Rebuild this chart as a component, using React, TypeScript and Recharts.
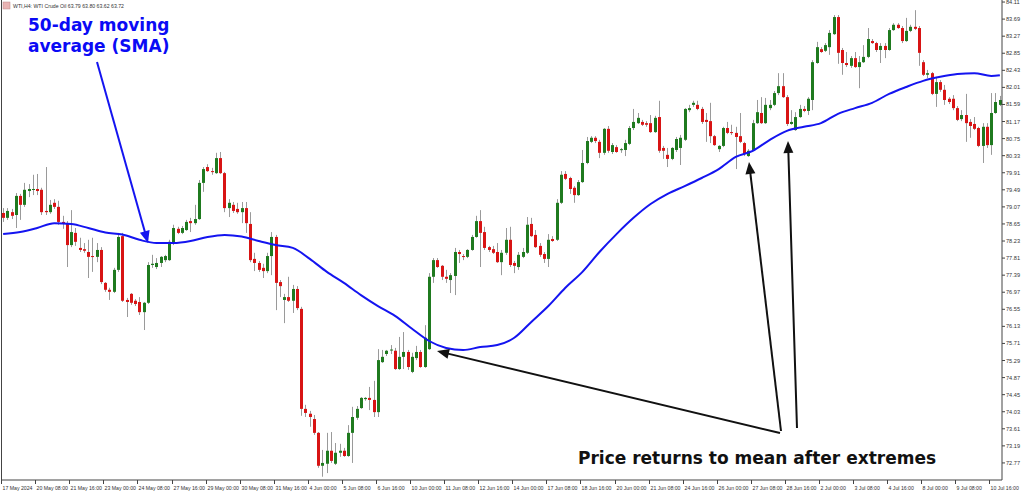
import React from 'react';
import { ComposedChart, Bar, Line, XAxis, YAxis } from 'recharts';

// H4 candles, [open, high, low, close]
const candles: [number, number, number, number][] = [
  [78.92, 79.04, 78.70, 78.80], [78.80, 79.04, 78.75, 78.97], [78.94, 79.02, 78.77, 78.85], [78.87, 79.41, 78.55, 79.34],
  [79.34, 79.39, 78.75, 79.12], [79.12, 79.66, 79.07, 79.49], [79.46, 79.63, 79.31, 79.51], [79.49, 79.86, 79.36, 79.51],
  [79.51, 79.88, 79.36, 79.46], [79.49, 79.54, 78.87, 78.94], [78.97, 80.05, 78.87, 78.94], [78.94, 79.24, 78.90, 79.12],
  [79.17, 79.26, 79.02, 79.07], [79.07, 79.22, 78.63, 78.70], [78.70, 78.85, 78.53, 78.67], [78.67, 78.72, 77.59, 78.13],
  [78.13, 78.99, 78.08, 78.45], [78.43, 78.55, 78.11, 78.21], [78.06, 78.31, 77.96, 78.01], [78.03, 78.18, 77.94, 77.99],
  [77.96, 78.26, 77.32, 77.84], [77.86, 78.31, 77.47, 77.84], [77.84, 78.18, 77.71, 78.01], [78.01, 78.08, 77.17, 77.22],
  [77.20, 77.22, 76.98, 77.03], [77.03, 77.08, 76.78, 76.98], [76.98, 77.57, 76.95, 77.52], [77.52, 78.43, 77.47, 78.33],
  [78.35, 78.43, 76.73, 76.76], [76.78, 76.83, 76.36, 76.73], [76.93, 76.95, 76.66, 76.71], [76.76, 76.80, 76.63, 76.68],
  [76.73, 76.85, 76.41, 76.48], [76.48, 76.73, 76.04, 76.71], [76.71, 77.71, 76.68, 77.64], [77.64, 77.89, 77.57, 77.67],
  [77.59, 77.81, 77.54, 77.69], [77.69, 77.86, 77.59, 77.84], [77.76, 77.89, 77.71, 77.86], [77.76, 78.26, 77.74, 78.21],
  [78.18, 78.63, 78.13, 78.55], [78.53, 78.58, 78.40, 78.43], [78.43, 78.60, 78.40, 78.55], [78.50, 78.75, 78.48, 78.70],
  [78.72, 78.80, 78.45, 78.67], [78.67, 79.12, 78.63, 78.77], [78.77, 79.73, 78.75, 79.66], [79.66, 80.05, 79.44, 80.00],
  [80.05, 80.12, 79.93, 79.95], [79.95, 80.03, 79.86, 79.93], [79.90, 80.40, 79.88, 80.27], [80.27, 80.42, 79.88, 79.90],
  [79.90, 79.93, 78.94, 79.04], [79.04, 79.26, 78.82, 79.17], [79.12, 79.19, 78.92, 78.97], [79.02, 79.17, 78.90, 78.94],
  [78.94, 79.19, 78.67, 79.04], [79.04, 79.19, 78.43, 78.67], [78.65, 78.94, 77.71, 77.76], [77.79, 77.94, 77.49, 77.69],
  [77.69, 77.74, 77.47, 77.52], [77.57, 77.67, 77.32, 77.49], [77.49, 77.94, 77.44, 77.86], [77.86, 78.45, 77.39, 78.33],
  [78.33, 78.38, 76.53, 77.20], [77.22, 77.27, 76.85, 77.12], [76.78, 76.93, 76.21, 76.85], [76.85, 77.35, 76.73, 76.76],
  [76.76, 77.15, 76.46, 77.05], [77.05, 77.12, 76.53, 76.58], [76.56, 76.61, 73.93, 74.10], [74.10, 74.20, 73.90, 74.00],
  [73.98, 74.05, 73.66, 73.90], [73.85, 73.95, 73.46, 73.51], [73.51, 73.53, 72.65, 72.70], [72.70, 73.09, 72.43, 72.77],
  [72.75, 73.51, 72.52, 73.07], [73.07, 73.53, 72.77, 72.82], [72.75, 73.26, 72.72, 73.02], [73.02, 73.24, 72.92, 73.07],
  [73.07, 73.14, 72.92, 72.94], [72.94, 73.70, 72.92, 73.51], [73.51, 74.15, 72.77, 73.90], [73.88, 74.17, 73.83, 74.10],
  [74.12, 74.39, 74.10, 74.37], [74.34, 74.39, 74.30, 74.37], [74.37, 74.64, 74.07, 74.32], [74.32, 74.79, 73.90, 74.02],
  [74.02, 75.57, 73.90, 75.30], [75.25, 75.55, 75.23, 75.38], [75.45, 75.55, 75.40, 75.53], [75.55, 75.67, 75.45, 75.56],
  [75.53, 75.60, 75.06, 75.08], [75.08, 75.87, 75.06, 75.38], [75.38, 75.99, 75.08, 75.50], [75.50, 75.55, 75.06, 75.13],
  [75.01, 75.48, 74.98, 75.38], [75.35, 75.65, 75.30, 75.50], [75.50, 75.55, 75.11, 75.13], [75.13, 76.16, 75.11, 75.85],
  [75.57, 77.44, 75.55, 77.35], [77.35, 77.81, 77.20, 77.76], [77.76, 77.81, 77.57, 77.59], [77.62, 77.64, 77.27, 77.35],
  [77.35, 77.52, 77.20, 77.30], [77.27, 77.44, 76.95, 77.39], [77.37, 78.06, 76.90, 77.96], [77.96, 78.01, 77.69, 77.91],
  [77.86, 77.91, 77.76, 77.84], [77.84, 78.03, 77.81, 78.01], [78.01, 78.38, 77.99, 78.33], [78.33, 78.85, 78.31, 78.72],
  [78.72, 78.99, 77.59, 78.43], [78.45, 78.58, 78.01, 78.06], [78.08, 78.11, 77.96, 78.01], [78.03, 78.11, 77.91, 77.94],
  [77.96, 78.18, 77.69, 77.71], [77.71, 78.01, 77.39, 77.94], [77.94, 78.55, 77.89, 78.26], [78.26, 78.58, 77.59, 77.64],
  [77.69, 77.74, 77.44, 77.62], [77.59, 77.96, 77.52, 77.89], [77.84, 78.06, 77.81, 77.96], [77.94, 78.82, 77.91, 78.63],
  [78.65, 78.80, 78.33, 78.35], [78.38, 78.50, 78.06, 78.08], [78.11, 78.18, 77.84, 77.89], [77.91, 77.96, 77.69, 77.79],
  [77.79, 78.40, 77.59, 78.26], [78.28, 78.35, 78.21, 78.23], [78.26, 79.26, 78.23, 79.17], [79.17, 79.95, 79.14, 79.86],
  [79.88, 79.95, 79.73, 79.76], [79.78, 79.81, 79.39, 79.51], [79.54, 79.58, 79.17, 79.36], [79.36, 79.73, 79.34, 79.68],
  [79.68, 80.47, 79.66, 80.15], [80.15, 80.79, 80.12, 80.69], [80.67, 80.81, 80.64, 80.77], [80.77, 80.81, 80.64, 80.69],
  [80.67, 80.72, 80.27, 80.40], [80.40, 81.01, 80.35, 80.99], [80.99, 81.06, 80.40, 80.45], [80.42, 80.64, 80.37, 80.59],
  [80.54, 80.59, 80.40, 80.42], [80.47, 80.52, 80.40, 80.49], [80.47, 80.72, 80.32, 80.64], [80.62, 81.06, 80.59, 81.01],
  [81.01, 81.48, 80.96, 81.16], [81.13, 81.38, 81.11, 81.26], [81.16, 81.21, 81.06, 81.09], [81.13, 81.18, 81.04, 81.09],
  [81.13, 81.33, 80.89, 80.91], [80.91, 81.31, 80.89, 81.26], [81.28, 81.68, 80.40, 80.45], [80.52, 80.57, 80.25, 80.45],
  [80.35, 80.52, 80.05, 80.25], [80.25, 80.54, 80.22, 80.52], [80.47, 80.79, 80.42, 80.74], [80.52, 80.84, 80.10, 80.77],
  [80.72, 81.50, 80.69, 81.48], [81.45, 81.58, 81.40, 81.50], [81.58, 81.68, 81.53, 81.63], [81.58, 81.68, 81.45, 81.48],
  [81.48, 81.53, 81.11, 81.16], [81.21, 81.38, 80.67, 81.16], [81.18, 81.63, 80.64, 80.81], [80.81, 80.84, 80.57, 80.59],
  [80.49, 80.59, 80.42, 80.57], [80.57, 81.04, 80.54, 81.01], [81.01, 81.16, 80.86, 80.89], [80.91, 81.09, 80.84, 80.89],
  [80.89, 81.04, 80.00, 80.79], [80.81, 81.38, 80.64, 80.67], [80.64, 80.67, 80.32, 80.37], [80.32, 80.49, 80.30, 80.45],
  [80.47, 81.21, 80.45, 81.13], [81.13, 81.70, 81.11, 81.40], [81.38, 81.77, 81.11, 81.13], [81.13, 81.75, 81.11, 81.58],
  [81.50, 81.70, 81.45, 81.58], [81.58, 81.92, 81.55, 81.87], [81.87, 82.36, 81.82, 82.04], [82.04, 82.36, 81.75, 81.77],
  [81.77, 81.82, 81.06, 81.11], [81.11, 81.45, 81.09, 81.16], [80.96, 81.40, 80.94, 81.28], [81.28, 81.58, 81.26, 81.48],
  [81.48, 81.55, 81.40, 81.43], [81.43, 81.77, 81.33, 81.73], [81.70, 82.68, 81.45, 82.63], [82.61, 83.13, 82.59, 83.00],
  [82.95, 83.00, 82.86, 82.88], [82.91, 83.10, 82.88, 83.05], [83.00, 83.42, 82.81, 83.35], [83.32, 83.79, 83.30, 83.74],
  [83.74, 83.79, 82.59, 82.86], [82.93, 82.98, 82.32, 82.61], [82.61, 82.88, 82.51, 82.56], [82.54, 82.78, 82.49, 82.73],
  [82.73, 82.88, 82.49, 82.51], [82.51, 82.78, 81.99, 82.63], [82.63, 83.05, 82.61, 82.76], [82.76, 83.47, 82.73, 83.20],
  [83.15, 83.20, 83.08, 83.10], [83.10, 83.13, 82.88, 82.93], [82.93, 83.10, 82.61, 83.03], [83.03, 83.10, 82.73, 82.93],
  [82.93, 83.47, 82.91, 83.42], [83.42, 83.59, 83.40, 83.55], [83.55, 83.59, 83.45, 83.47], [83.47, 83.52, 83.10, 83.15],
  [83.15, 83.72, 83.13, 83.40], [83.40, 83.55, 83.37, 83.50], [83.50, 83.91, 83.42, 83.45], [83.47, 83.52, 82.54, 82.86],
  [82.63, 82.68, 82.29, 82.32], [82.32, 82.44, 82.24, 82.36], [82.36, 82.39, 81.82, 81.85], [81.85, 82.27, 81.53, 82.14],
  [82.14, 82.19, 81.90, 81.95], [81.95, 82.07, 81.58, 81.70], [81.73, 81.77, 81.60, 81.65], [81.73, 81.82, 81.45, 81.50],
  [81.50, 81.55, 81.18, 81.21], [81.23, 81.45, 81.18, 81.33], [81.33, 81.85, 80.67, 81.13], [81.16, 81.23, 80.77, 81.06],
  [81.11, 81.28, 80.96, 80.99], [81.01, 81.04, 80.54, 80.57], [80.57, 81.13, 80.15, 81.04], [81.04, 81.13, 80.52, 80.59],
  [80.59, 81.87, 80.35, 81.38], [81.38, 81.87, 81.36, 81.65], [81.58, 81.80, 81.55, 81.70],
];

// 50 SMA, read every 4th bar, plus the last bar
const smaEvery4 = [
  78.40, 78.45, 78.55, 78.67, 78.65, 78.55, 78.44, 78.39, 78.26, 78.18,
  78.18, 78.23, 78.33, 78.38, 78.34, 78.23, 78.13, 78.06, 77.79, 77.47,
  77.20, 76.90, 76.63, 76.39, 76.07, 75.77, 75.60, 75.55, 75.62, 75.67,
  75.85, 76.24, 76.63, 77.08, 77.47, 77.96, 78.40, 78.80, 79.14, 79.39,
  79.58, 79.78, 80.00, 80.30, 80.45, 80.72, 80.94, 81.04, 81.13, 81.36,
  81.50, 81.63, 81.85, 82.02, 82.17, 82.27, 82.34, 82.36, 82.29,
];
const smaLastBar = 82.31;

// one label every 8 bars
const timeLabels = [
  '17 May 2024', '20 May 08:00', '21 May 16:00', '23 May 00:00', '24 May 08:00', '27 May 16:00',
  '29 May 00:00', '30 May 08:00', '31 May 16:00', '4 Jun 00:00', '5 Jun 08:00', '6 Jun 16:00',
  '10 Jun 00:00', '11 Jun 08:00', '12 Jun 16:00', '14 Jun 00:00', '17 Jun 08:00', '18 Jun 16:00',
  '20 Jun 00:00', '21 Jun 08:00', '24 Jun 16:00', '26 Jun 00:00', '27 Jun 08:00', '28 Jun 16:00',
  '2 Jul 00:00', '3 Jul 08:00', '4 Jul 16:00', '8 Jul 00:00', '9 Jul 08:00', '10 Jul 16:00',
];

const priceTicks = [
  84.11, 83.69, 83.27, 82.85, 82.43, 82.01, 81.59, 81.17, 80.75, 80.33, 79.91, 79.49, 79.07, 78.65,
  78.23, 77.81, 77.39, 76.97, 76.55, 76.13, 75.71, 75.29, 74.87, 74.45, 74.03, 73.61, 73.19, 72.77,
];

const data = candles.map(([open, high, low, close], i) => ({
  i,
  open,
  high,
  low,
  close,
  range: [low, high],
  sma: i % 4 === 0 ? smaEvery4[i / 4] : i === candles.length - 1 ? smaLastBar : null,
}));

const UP = '#1f7a1f';
const DOWN = '#d81414';
const WICK = '#9a9a9a';
const AXIS = '#444';
const tickFont = { fontFamily: 'Liberation Sans, Arial, sans-serif', fontSize: 5.2, fill: '#333' };

const Candle = (props: any) => {
  const { x, y, width, height, payload } = props;
  const top = Math.min(y, y + height);
  const h = Math.abs(height);
  const span = payload.high - payload.low;
  const k = span > 0 ? h / span : 0;
  const cx = Math.round(x + width / 2) + 0.5;
  const yo = top + (payload.high - payload.open) * k;
  const yc = top + (payload.high - payload.close) * k;
  const up = payload.close >= payload.open;
  return (
    <g>
      <line x1={cx} x2={cx} y1={top} y2={top + h} stroke={WICK} strokeWidth={1} />
      <rect
        x={cx - 1.5}
        y={Math.min(yo, yc)}
        width={3}
        height={Math.max(1, Math.abs(yo - yc))}
        fill={up ? UP : DOWN}
      />
    </g>
  );
};

const TimeTick = (props: any) => {
  const { x, y, payload } = props;
  const i = payload.value;
  if (i % 8 !== 0) return <g />;
  const tx = Math.round(x) - 1.5;
  return (
    <g>
      <line x1={tx} x2={tx} y1={y} y2={y + 4} stroke={AXIS} />
      <text x={tx + 1} y={y + 9.5} {...tickFont}>
        {timeLabels[i / 8]}
      </text>
    </g>
  );
};

const PriceTick = (props: any) => {
  const { x, y, payload } = props;
  return (
    <g>
      <line x1={x} x2={x + 3} y1={y} y2={y} stroke={AXIS} />
      <text x={x + 4} y={y + 2} {...tickFont} fontSize={5.6}>
        {payload.value.toFixed(2)}
      </text>
    </g>
  );
};

const arrowHead = (x1: number, y1: number, x2: number, y2: number, len = 12, half = 5) => {
  const dx = x2 - x1;
  const dy = y2 - y1;
  const d = Math.hypot(dx, dy);
  const ux = dx / d;
  const uy = dy / d;
  const bx = x2 - ux * len;
  const by = y2 - uy * len;
  return `${x2},${y2} ${bx - uy * half},${by + ux * half} ${bx + uy * half},${by - ux * half}`;
};

const Arrow = ({ x1, y1, x2, y2, color }: any) => {
  const d = Math.hypot(x2 - x1, y2 - y1);
  const ex = x2 - ((x2 - x1) / d) * 8;
  const ey = y2 - ((y2 - y1) / d) * 8;
  return (
    <g>
      <line x1={x1} y1={y1} x2={ex} y2={ey} stroke={color} strokeWidth={2} />
      <polygon points={arrowHead(x1, y1, x2, y2)} fill={color} />
    </g>
  );
};

const App: React.FC = () => {
  return (
    <div style={{ position: 'fixed', left: 0, top: 0, width: 1024, height: 492, background: '#fff' }}>
      <ComposedChart
        width={1024}
        height={492}
        data={data}
        margin={{ top: 0, right: 0, bottom: 0, left: 1 }}
        barCategoryGap={0}
      >
        <XAxis
          dataKey="i"
          type="category"
          interval={0}
          height={12}
          tickLine={false}
          tickSize={0}
          tickMargin={0}
          tick={<TimeTick />}
          axisLine={{ stroke: AXIS }}
        />
        <YAxis
          orientation="right"
          type="number"
          domain={[72.35, 84.16]}
          allowDataOverflow
          ticks={priceTicks}
          interval={0}
          width={22}
          tickLine={false}
          tickSize={0}
          tickMargin={0}
          tick={<PriceTick />}
          axisLine={{ stroke: AXIS }}
        />
        <Bar dataKey="range" shape={<Candle />} isAnimationActive={false} />
        <Line
          dataKey="sma"
          type="monotone"
          connectNulls
          dot={false}
          stroke="#1414f0"
          strokeWidth={2}
          isAnimationActive={false}
        />
      </ComposedChart>
      <svg
        width={1024}
        height={492}
        style={{ position: 'absolute', left: 0, top: 0, pointerEvents: 'none' }}
      >
        <line x1={1.5} y1={0} x2={1.5} y2={480} stroke={AXIS} />
        <rect x={3} y={2} width={7} height={7} fill="#e9b3b3" stroke="#b88" strokeWidth={0.5} />
        <text x={13} y={8} {...tickFont}>
          WTI,H4:  WTI Crude Oil  63.79 63.80 63.62 63.72
        </text>
        <text
          fontFamily="DejaVu Sans, sans-serif"
          fontWeight="bold"
          fontSize={17}
          fill="#0a0af5"
        >
          <tspan x={28} y={31}>50-day moving</tspan>
          <tspan x={28} y={52}>average (SMA)</tspan>
        </text>
        <Arrow x1={97} y1={62} x2={148} y2={243} color="#1414f0" />
        <Arrow x1={780} y1={433} x2={437} y2={351} color="#111" />
        <Arrow x1={781} y1={431} x2={749} y2={162} color="#111" />
        <Arrow x1={797} y1={428} x2={788} y2={141} color="#111" />
        <text
          x={578}
          y={464}
          fontFamily="DejaVu Sans, sans-serif"
          fontWeight="bold"
          fontSize={17}
          fill="#111"
        >
          Price returns to mean after extremes
        </text>
      </svg>
    </div>
  );
};

export default App;
